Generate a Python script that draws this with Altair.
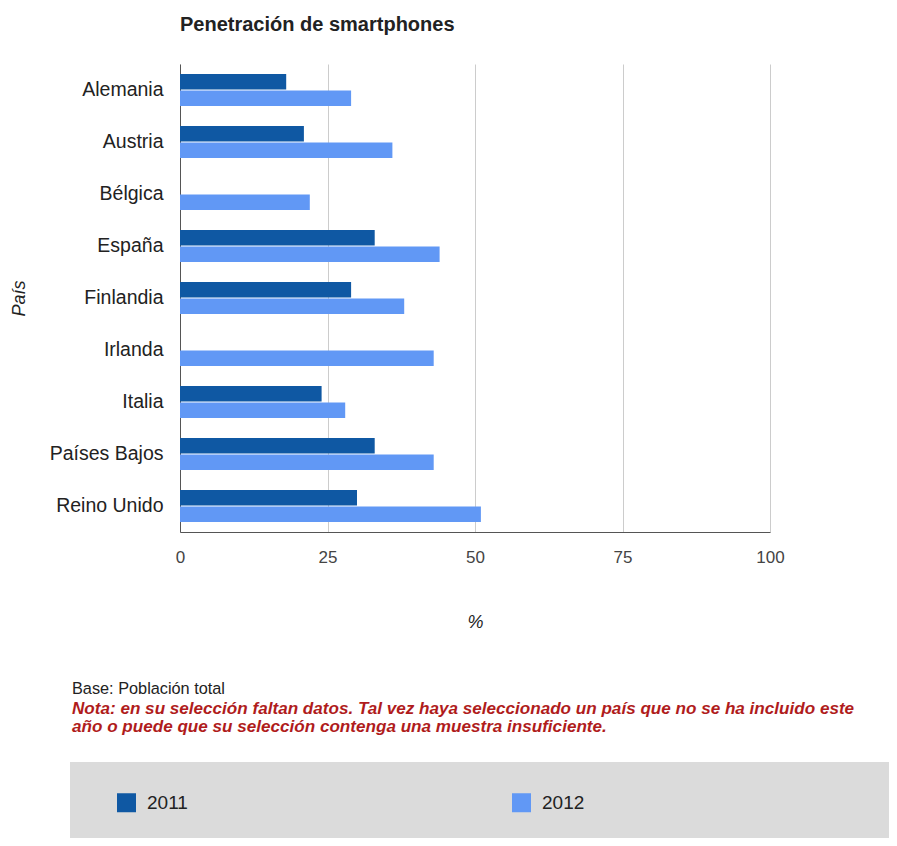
import altair as alt
import pandas as pd

countries = ["Alemania", "Austria", "Bélgica", "España", "Finlandia",
             "Irlanda", "Italia", "Países Bajos", "Reino Unido"]
v2011 = [18, 21, None, 33, 29, None, 24, 33, 30]
v2012 = [29, 36, 22, 44, 38, 43, 28, 43, 51]
years = ["2011", "2012"]
colors = ["#0f58a3", "#6198f5"]
x_ticks = [0, 25, 50, 75, 100]

title_text = "Penetración de smartphones"
base_text = "Base: Población total"
note_lines = [
    "Nota: en su selección faltan datos. Tal vez haya seleccionado un país que no se ha incluido este",
    "año o puede que su selección contenga una muestra insuficiente.",
]

rows = []
for c, a, b in zip(countries, v2011, v2012):
    if a is not None:
        rows.append({"País": c, "Año": "2011", "Valor": a})
    if b is not None:
        rows.append({"País": c, "Año": "2012", "Valor": b})
df = pd.DataFrame(rows)

FONT = "Liberation Sans"
W, H = 590, 468

bars = alt.Chart(df).mark_bar(size=15.5).encode(
    y=alt.Y("País:N", sort=countries,
            scale=alt.Scale(domain=countries, paddingInner=0.385, paddingOuter=0.19),
            axis=alt.Axis(title="País", titleFontStyle="italic", titleFontWeight="normal",
                          titleFontSize=18, titleColor="#222", titleX=-161, titleY=234,
                          titleAngle=270, titleAlign="center", titleBaseline="middle",
                          labelFontSize=19.5, labelColor="#222", labelPadding=17,
                          ticks=False, domainColor="#555", grid=False)),
    yOffset=alt.YOffset("Año:N", scale=alt.Scale(domain=years, paddingInner=0.06)),
    x=alt.X("Valor:Q", scale=alt.Scale(domain=[0, 100], nice=False),
            axis=alt.Axis(title="%", values=x_ticks, titleFontStyle="italic",
                          titleFontWeight="normal", titleFontSize=18, titleColor="#222",
                          titleY=90, titleBaseline="middle",
                          labelFontSize=17, labelColor="#444", labelPadding=17,
                          ticks=False, domainColor="#555", gridColor="#cccccc",
                          labelFlush=False)),
    color=alt.Color("Año:N", scale=alt.Scale(domain=years, range=colors),
                    legend=alt.Legend(title=None, orient="none", legendX=-63, legendY=729,
                                      direction="horizontal", columns=2, columnPadding=324,
                                      symbolType="square", symbolSize=361,
                                      symbolStrokeWidth=0, labelFontSize=19,
                                      labelColor="#222", labelOffset=11, zindex=1)),
)

bg = alt.Chart(pd.DataFrame({"k": [0]})).mark_rect(color="#dbdbdb").encode(
    x=alt.value(-110), x2=alt.value(720), y=alt.value(698), y2=alt.value(800)
)

base_df = pd.DataFrame({"t": [base_text]})
base_lbl = alt.Chart(base_df).mark_text(
    align="left", baseline="alphabetic", fontSize=16.3, color="#222", font=FONT
).encode(text="t:N", x=alt.value(-108), y=alt.value(630))

note_df = pd.DataFrame({"t": note_lines, "i": [0, 1]})
note1 = alt.Chart(note_df.iloc[[0]]).mark_text(
    align="left", baseline="alphabetic", fontSize=17.1, color="#b01c1c",
    fontStyle="italic", fontWeight="bold", font=FONT
).encode(text="t:N", x=alt.value(-108), y=alt.value(650))
note2 = alt.Chart(note_df.iloc[[1]]).mark_text(
    align="left", baseline="alphabetic", fontSize=17.1, color="#b01c1c",
    fontStyle="italic", fontWeight="bold", font=FONT
).encode(text="t:N", x=alt.value(-108), y=alt.value(668))

chart = alt.layer(bg, bars, base_lbl, note1, note2).properties(
    width=W, height=H,
    title=alt.TitleParams(title_text, anchor="start", frame="group", fontSize=20,
                          fontWeight="bold", color="#222", offset=13,
                          baseline="alphabetic", font=FONT),
    autosize=alt.AutoSizeParams(type="none"),
    padding={"left": 172, "top": 56, "right": 119, "bottom": 306},
).configure(font=FONT).configure_view(stroke=None)

chart.save("out.html", embed_options={"renderer": "svg", "actions": False})
